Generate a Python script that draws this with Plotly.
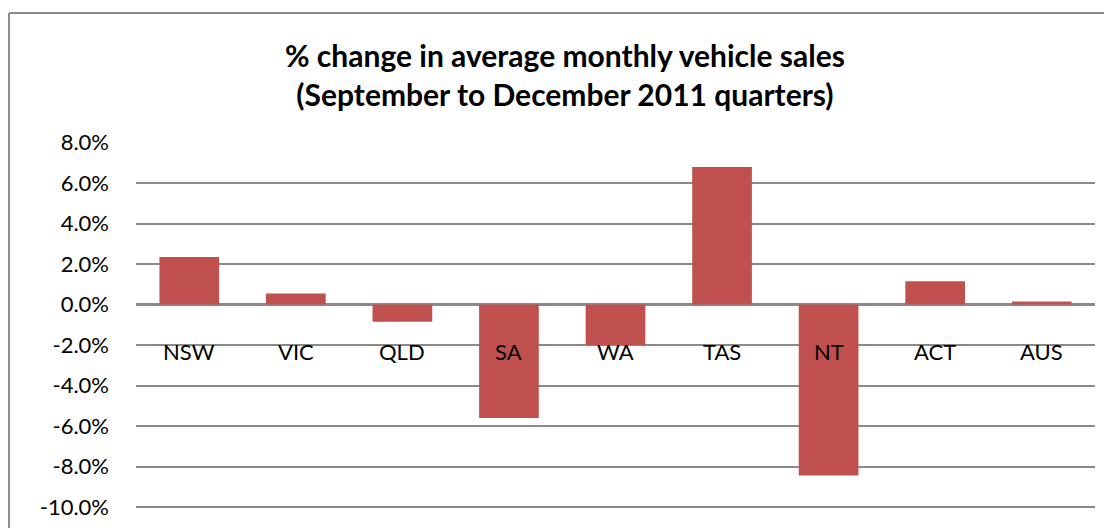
"""
% change in average monthly vehicle sales, by state
"""
import plotly.graph_objects as go

states = ['NSW', 'VIC', 'QLD', 'SA', 'WA', 'TAS', 'NT', 'ACT', 'AUS']
pct_change = [2.35, 0.55, -0.85, -5.6, -2.0, 6.8, -8.45, 1.15, 0.15]
y_ticks = [8, 6, 4, 2, 0, -2, -4, -6, -8, -10]

FONT = 'Lato, Calibri, sans-serif'
BAR_COLOR = '#C0504D'
GRID_COLOR = '#8A8A8A'
BORDER_COLOR = '#8C8C8C'

fig = go.Figure(go.Bar(
    x=states,
    y=pct_change,
    marker_color=BAR_COLOR,
    marker_line_width=0,
))

# Excel-style category labels sitting just under the zero line
for s in states:
    fig.add_annotation(
        x=s, y=0, xref='x', yref='y',
        text=s, showarrow=False,
        yanchor='top', yshift=-31,
        font=dict(family=FONT, size=22, color='black'),
    )

# outer chart border: only left and top edges show in the cropped original
fig.add_shape(type='line', xref='paper', yref='paper',
              x0=-0.1324, x1=-0.1324, y0=-0.2, y1=1.3525,
              line=dict(color=BORDER_COLOR, width=2))
fig.add_shape(type='line', xref='paper', yref='paper',
              x0=-0.1324, x1=1.1, y0=1.3525, y1=1.3525,
              line=dict(color=BORDER_COLOR, width=2))

# page body has an 8px margin, so the figure is kept smaller than the window
fig.update_layout(
    width=1104, height=520,
    margin=dict(l=128, r=17, t=134, b=20, autoexpand=False),
    paper_bgcolor='white', plot_bgcolor='white',
    title=dict(
        text='<b>% change in average monthly vehicle sales<br>(September to December 2011 quarters)</b>',
        x=0.5045, xanchor='center', y=0.8866, yanchor='middle',
        font=dict(family=FONT, size=30, color='black'),
    ),
    bargap=0.44,
    showlegend=False,
    font=dict(family=FONT, size=22, color='black'),
)

fig.update_xaxes(showticklabels=False, showgrid=False, zeroline=False,
                 showline=False, ticks='', automargin=False)
fig.update_yaxes(range=[-10.05, 8.03], tickvals=y_ticks,
                 ticktext=['%.1f%%' % v for v in y_ticks],
                 showgrid=True, gridcolor=GRID_COLOR, gridwidth=1.5,
                 zeroline=True, zerolinecolor=GRID_COLOR, zerolinewidth=2.5,
                 showline=False, ticks='', ticklabelstandoff=26,
                 ticklabeloverflow='allow',
                 automargin=False, layer='below traces')

fig.write_html("out.html")
